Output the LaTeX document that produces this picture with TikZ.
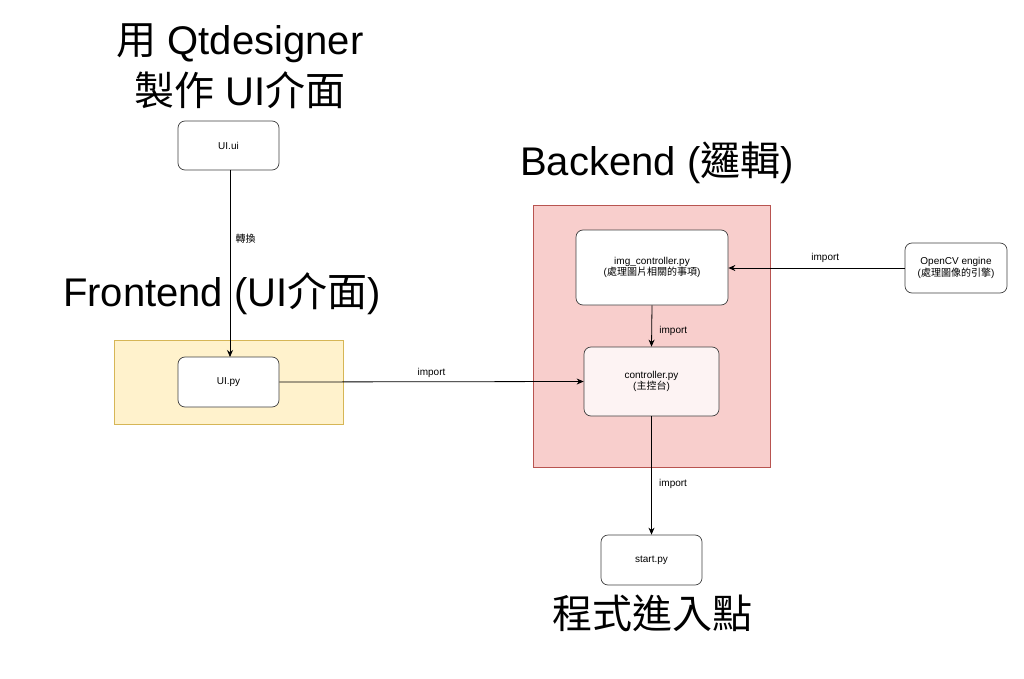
\documentclass[tikz,border=0pt]{standalone}
\usepackage{fontspec}
\setmainfont{Liberation Sans}
\newfontfamily\cjk{Noto Sans CJK TC}
\usetikzlibrary{arrows.meta}
\definecolor{ybg}{HTML}{FFF2CC}\definecolor{ybd}{HTML}{D6B656}
\definecolor{pbg}{HTML}{F8CECC}\definecolor{pbd}{HTML}{B85450}
\definecolor{lbg}{HTML}{FDF3F3}
\begin{document}
\begin{tikzpicture}[x=1pt,y=-1pt,
 box/.style={draw=black!75,rounded corners=7pt,fill=white,line width=0.7pt},
 arr/.style={-{Stealth[length=7pt,width=6pt]},line width=0.8pt},
 lbl/.style={font=\fontsize{10}{11.5}\selectfont},
 big/.style={font=\fontsize{40}{46}\selectfont,align=center}]
\useasboundingbox (0,0) rectangle (1024,679);
\node[draw=ybd,fill=ybg,minimum width=229pt,minimum height=84pt,anchor=north west] (fe) at (114,340) {};
\node[draw=pbd,fill=pbg,minimum width=237pt,minimum height=262pt,anchor=north west] (be) at (533,205) {};
\node[box,minimum width=101pt,minimum height=49pt,lbl] (uiui) at (228.5,145.5) {UI.ui};
\node[box,minimum width=101pt,minimum height=50pt,lbl] (uipy) at (228.5,382) {UI.py};
\node[box,minimum width=152pt,minimum height=75pt,lbl,align=center] (img) at (652,267.5) {img\_controller.py\\({\cjk 處理圖片相關的事項})};
\node[box,fill=lbg,minimum width=135pt,minimum height=69pt,lbl,align=center] (ctl) at (651.5,381.5) {controller.py\\({\cjk 主控台})};
\node[box,minimum width=102pt,minimum height=50pt,lbl,align=center] (cv) at (956,268) {OpenCV engine\\({\cjk 處理圖像的引擎})};
\node[box,minimum width=101pt,minimum height=50pt,lbl] (st) at (651.5,560) {start.py};
\draw[arr] (230,170) -- node[right,lbl,xshift=2pt,pos=0.37]{\cjk 轉換} (230,357);
\draw[arr] (uipy.east) -- node[above,lbl]{import} (ctl.west);
\draw[arr] (cv.west) -- node[above,lbl,pos=0.45,yshift=2pt]{import} (img.east |- cv.west);
\draw[arr] (img.south) -- node[right,lbl,xshift=4pt,pos=0.62]{import} (ctl.north);
\draw[arr] (ctl.south) -- node[right,lbl,xshift=4pt,pos=0.57]{import} (st.north);
\node[big] (t1) at (240,43) {{\cjk 用} Qtdesigner};
\node[big] (t2) at (240,90) {{\cjk 製作} UI{\cjk 介面}};
\node[big] (t3) at (222,294) {Frontend (UI{\cjk 介面})};
\node[big] (t4) at (657,163) {Backend ({\cjk 邏輯})};
\node[big] (t5) at (652,613) {\cjk 程式進入點};
\end{tikzpicture}
\end{document}
